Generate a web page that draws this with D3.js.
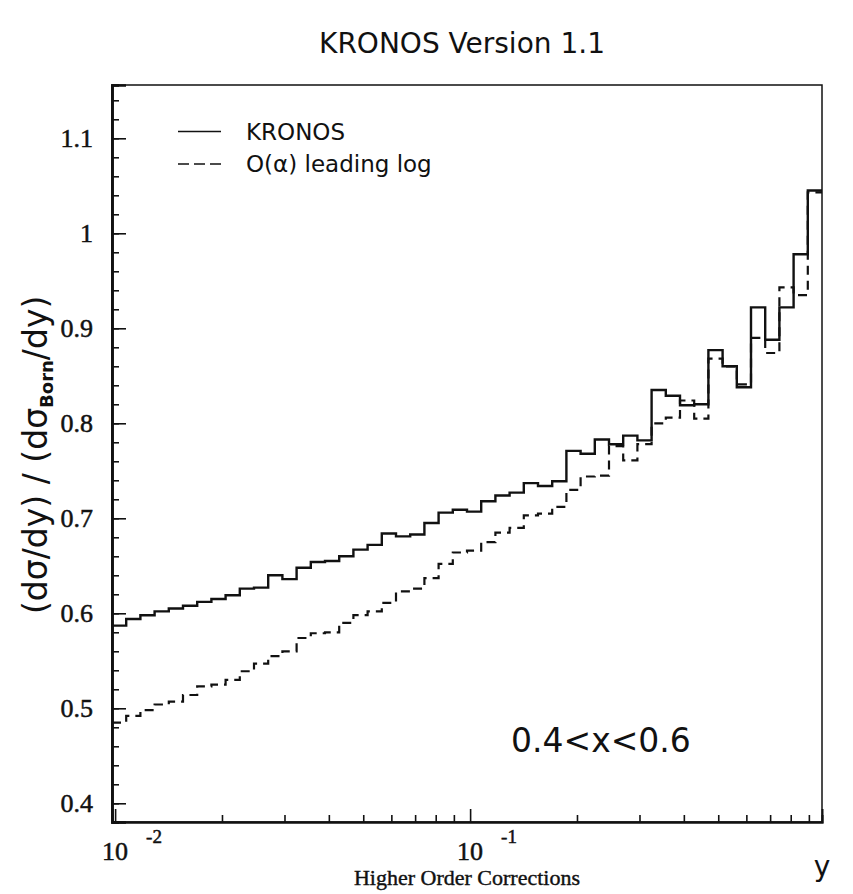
<!DOCTYPE html>
<html>
<head>
<meta charset="utf-8">
<script src="https://cdn.jsdelivr.net/npm/d3@7"></script>
<style>
  html, body { margin: 0; padding: 0; background: #fff; }
  svg { display: block; }
</style>
</head>
<body>
<svg id="chart"></svg>
<script>
(function () {
    'use strict';

    // histogram range in y and number of log bins
    var binRange = [0.0098, 0.98];
    var binCount = 50;

    // ratio to Born, per bin
    var kronos = [
        0.587, 0.594, 0.598, 0.602, 0.605, 0.608, 0.612, 0.615, 0.619, 0.626,
        0.627, 0.640, 0.636, 0.648, 0.654, 0.655, 0.660, 0.667, 0.672, 0.684,
        0.681, 0.683, 0.695, 0.706, 0.709, 0.707, 0.718, 0.724, 0.727, 0.737,
        0.734, 0.739, 0.771, 0.768, 0.783, 0.778, 0.787, 0.782, 0.835, 0.829,
        0.819, 0.820, 0.877, 0.860, 0.838, 0.922, 0.888, 0.922, 0.978, 1.045
    ];
    var leadingLog = [
        0.485, 0.492, 0.498, 0.504, 0.507, 0.514, 0.523, 0.525, 0.530, 0.539,
        0.547, 0.555, 0.560, 0.574, 0.579, 0.580, 0.590, 0.598, 0.602, 0.611,
        0.623, 0.626, 0.637, 0.652, 0.664, 0.666, 0.675, 0.685, 0.690, 0.703,
        0.705, 0.712, 0.730, 0.744, 0.745, 0.776, 0.761, 0.778, 0.800, 0.806,
        0.824, 0.805, 0.868, 0.860, 0.841, 0.890, 0.874, 0.943, 0.935, 1.043
    ];

    var yTicks = [0.4, 0.5, 0.6, 0.7, 0.8, 0.9, 1.0, 1.1];
    var yMinorTicks = d3.range(0.38, 1.16, 0.02);
    var xMajorTicks = [0.01, 0.1];
    var xExponents = ['-2', '-1'];
    var xMinorTicks = [0.02, 0.03, 0.04, 0.05, 0.06, 0.07, 0.08, 0.09,
                       0.2, 0.3, 0.4, 0.5, 0.6, 0.7, 0.8, 0.9];
    var legendLabels = ['KRONOS', 'O(\u03b1) leading log'];

    var width = 853, height = 894;
    var margin = { top: 85, right: 31, bottom: 72, left: 112 };

    var svg = d3.select('#chart')
        .attr('width', width)
        .attr('height', height);

    var scaleX = d3.scaleLog()
        .domain(binRange)
        .range([margin.left, width - margin.right]);

    var scaleY = d3.scaleLinear()
        .domain([0.3803, 1.1561])
        .range([height - margin.bottom, margin.top]);

    // log-spaced bin edges
    var logLo = Math.log10(binRange[0]), logHi = Math.log10(binRange[1]);
    var edges = d3.range(binCount + 1).map(function (i) {
        return Math.pow(10, logLo + (logHi - logLo) * i / binCount);
    });

    function stepPoints(values) {
        var pts = values.map(function (v, i) { return [edges[i], v]; });
        pts.push([edges[binCount], values[binCount - 1]]);
        return pts;
    }

    var step = d3.line()
        .x(function (d) { return scaleX(d[0]); })
        .y(function (d) { return scaleY(d[1]); })
        .curve(d3.curveStepAfter);

    var ink = '#111';
    var serif = '"Liberation Serif", "Times New Roman", serif';
    var sans = '"DejaVu Sans", sans-serif';

    // frame
    svg.append('rect')
        .attr('x', margin.left)
        .attr('y', margin.top)
        .attr('width', width - margin.left - margin.right)
        .attr('height', height - margin.top - margin.bottom)
        .attr('fill', 'none')
        .attr('stroke', ink)
        .attr('stroke-width', 1.5);

    // y axis (ticks pointing inward)
    var yAxis = svg.append('g')
        .attr('transform', 'translate(' + margin.left + ',0)');
    yAxis.call(d3.axisLeft(scaleY).tickValues(yMinorTicks).tickSize(-7).tickFormat(''));
    yAxis.append('g').call(d3.axisLeft(scaleY).tickValues(yTicks).tickSize(-14).tickFormat(''));
    yAxis.selectAll('.domain').attr('stroke', ink).attr('stroke-width', 2.6);
    yAxis.selectAll('line').attr('stroke', ink).attr('stroke-width', 1.6);

    // x axis (ticks pointing inward)
    var xAxis = svg.append('g')
        .attr('transform', 'translate(0,' + (height - margin.bottom) + ')');
    xAxis.call(d3.axisBottom(scaleX).tickValues(xMinorTicks).tickSize(-7).tickFormat(''));
    xAxis.append('g').call(d3.axisBottom(scaleX).tickValues(xMajorTicks).tickSize(-13).tickFormat(''));
    xAxis.selectAll('.domain').attr('stroke', ink).attr('stroke-width', 2);
    xAxis.selectAll('line').attr('stroke', ink).attr('stroke-width', 1.6);

    // y tick labels
    svg.append('g').selectAll('text')
        .data(yTicks)
        .enter().append('text')
        .attr('x', 93)
        .attr('y', function (d) { return scaleY(d) + 9; })
        .attr('text-anchor', 'end')
        .attr('font-family', serif)
        .attr('font-size', 26)
        .attr('fill', ink)
        .attr('stroke', ink)
        .attr('stroke-width', 0.5)
        .text(function (d) { return d === 1 ? '1' : d3.format('.1f')(d); });

    // x tick labels: 10 with exponent
    var xLab = svg.append('g').selectAll('g')
        .data(xMajorTicks)
        .enter().append('g')
        .attr('font-family', serif)
        .attr('fill', ink)
        .attr('stroke', ink)
        .attr('stroke-width', 0.5);
    xLab.append('text')
        .attr('x', function (d) { return scaleX(d); })
        .attr('y', 860)
        .attr('text-anchor', 'middle')
        .attr('font-size', 26)
        .text('10');
    xLab.append('text')
        .attr('x', function (d) { return scaleX(d) + 31; })
        .attr('y', 843)
        .attr('font-size', 19)
        .text(function (d, i) { return xExponents[i]; });

    // histograms
    svg.append('path')
        .datum(stepPoints(leadingLog))
        .attr('d', step)
        .attr('fill', 'none')
        .attr('stroke', ink)
        .attr('stroke-width', 2.2)
        .attr('stroke-dasharray', '9,6');

    svg.append('path')
        .datum(stepPoints(kronos))
        .attr('d', step)
        .attr('fill', 'none')
        .attr('stroke', ink)
        .attr('stroke-width', 2.4);

    // legend
    var legend = svg.append('g');
    legend.selectAll('line')
        .data(legendLabels)
        .enter().append('line')
        .attr('x1', 178).attr('x2', 221)
        .attr('y1', function (d, i) { return 131.5 + i * 32.5; })
        .attr('y2', function (d, i) { return 131.5 + i * 32.5; })
        .attr('stroke', ink)
        .attr('stroke-width', 1.5)
        .attr('stroke-dasharray', function (d, i) { return i ? '11,5' : null; });
    legend.selectAll('text')
        .data(legendLabels)
        .enter().append('text')
        .attr('x', 246)
        .attr('y', function (d, i) { return 139.5 + i * 32.5; })
        .attr('font-family', sans)
        .attr('font-size', 23)
        .attr('fill', ink)
        .text(function (d) { return d; });

    // title
    svg.append('text')
        .attr('x', 462)
        .attr('y', 53)
        .attr('text-anchor', 'middle')
        .attr('font-family', sans)
        .attr('font-size', 28)
        .attr('fill', ink)
        .text('KRONOS Version 1.1');

    // x range annotation
    svg.append('text')
        .attr('x', 511)
        .attr('y', 752)
        .attr('font-family', sans)
        .attr('font-size', 33)
        .attr('fill', ink)
        .text('0.4<x<0.6');

    // axis titles
    svg.append('text')
        .attr('x', 467)
        .attr('y', 885)
        .attr('text-anchor', 'middle')
        .attr('font-family', serif)
        .attr('font-size', 22)
        .attr('fill', ink)
        .attr('stroke', ink)
        .attr('stroke-width', 0.4)
        .text('Higher Order Corrections');

    svg.append('text')
        .attr('x', 822)
        .attr('y', 876)
        .attr('text-anchor', 'middle')
        .attr('font-family', sans)
        .attr('font-size', 28)
        .attr('fill', ink)
        .text('y');

    var yTitle = svg.append('text')
        .attr('transform', 'translate(47,614)rotate(-90)')
        .attr('font-family', sans)
        .attr('font-size', 33)
        .attr('fill', ink);
    yTitle.append('tspan').text('(d\u03c3/dy) / (d\u03c3');
    yTitle.append('tspan')
        .attr('font-size', 18)
        .attr('font-weight', 'bold')
        .attr('dy', 6)
        .text('Born');
    yTitle.append('tspan')
        .attr('dy', -6)
        .text('/dy)');
}());
</script>
</body>
</html>
